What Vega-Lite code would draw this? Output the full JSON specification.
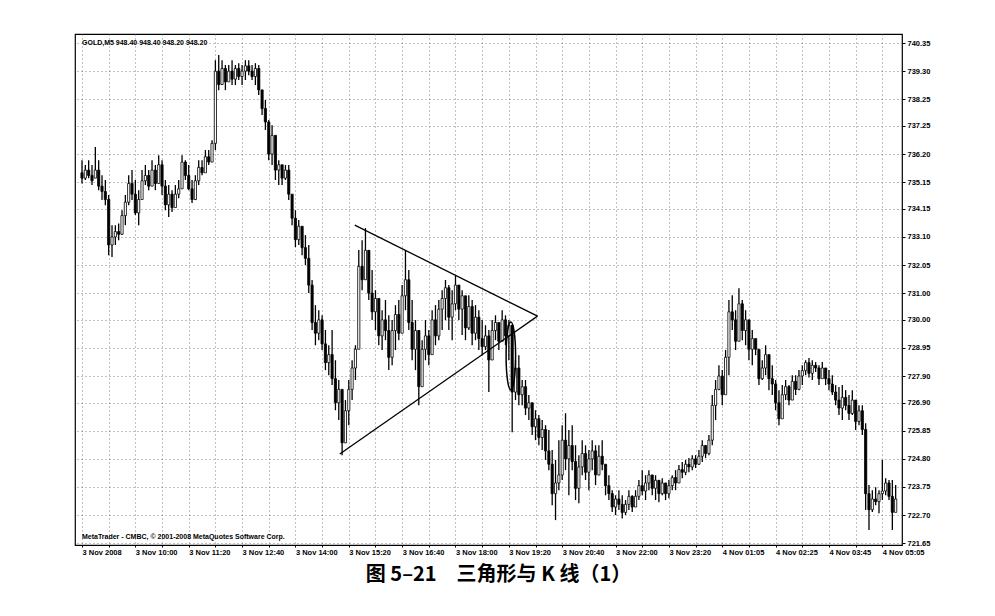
{
"$schema": "https://vega.github.io/schema/vega-lite/v6.json",
"width": 827, "height": 511, "autosize": "none",
"padding": {"left": 75, "top": 34, "right": 93, "bottom": 71},
"background": "white",
"config": {"view": {"stroke": "black", "strokeWidth": 1.2}, "font": "Liberation Sans"},
"title": {"text": "图 5–21　三角形与 K 线（1）", "orient": "bottom", "anchor": "middle", "font": "Noto Sans CJK SC", "fontSize": 20, "fontWeight": "bold", "color": "black", "offset": 9, "dx": 10},
"datasets": {
"bars": [
{"i":0,"o":735.5,"h":735.97,"l":735.1,"c":735.3},
{"i":1,"o":735.3,"h":735.79,"l":735.23,"c":735.6},
{"i":2,"o":735.6,"h":735.97,"l":735.3,"c":735.4},
{"i":3,"o":735.4,"h":735.79,"l":735.04,"c":735.2},
{"i":4,"o":735.3,"h":736.46,"l":735.41,"c":735.6},
{"i":5,"o":735.6,"h":735.97,"l":734.85,"c":735.0},
{"i":6,"o":735.0,"h":735.41,"l":734.48,"c":734.8},
{"i":7,"o":734.8,"h":735.23,"l":734.29,"c":734.5},
{"i":8,"o":734.5,"h":734.67,"l":732.42,"c":732.8},
{"i":9,"o":732.8,"h":733.54,"l":732.35,"c":733.1},
{"i":10,"o":733.1,"h":733.54,"l":732.8,"c":733.3},
{"i":11,"o":733.3,"h":733.6,"l":732.98,"c":733.2},
{"i":12,"o":733.2,"h":734.1,"l":733.17,"c":733.9},
{"i":13,"o":733.9,"h":734.67,"l":733.54,"c":734.4},
{"i":14,"o":734.4,"h":735.41,"l":734.29,"c":735.1},
{"i":15,"o":735.1,"h":735.6,"l":734.48,"c":734.7},
{"i":16,"o":734.7,"h":735.23,"l":733.92,"c":734.0},
{"i":17,"o":734.0,"h":734.85,"l":733.54,"c":734.5},
{"i":18,"o":734.5,"h":735.6,"l":734.67,"c":735.2},
{"i":19,"o":735.2,"h":735.79,"l":735.04,"c":735.4},
{"i":20,"o":735.4,"h":735.6,"l":734.85,"c":735.0},
{"i":21,"o":735.0,"h":735.97,"l":735.04,"c":735.6},
{"i":22,"o":735.6,"h":735.79,"l":734.85,"c":735.1},
{"i":23,"o":735.1,"h":736.16,"l":735.23,"c":735.8},
{"i":24,"o":735.8,"h":735.97,"l":734.67,"c":735.0},
{"i":25,"o":735.0,"h":735.23,"l":734.1,"c":734.3},
{"i":26,"o":734.3,"h":735.04,"l":733.85,"c":734.7},
{"i":27,"o":734.7,"h":734.85,"l":734.03,"c":734.2},
{"i":28,"o":734.2,"h":735.04,"l":734.48,"c":734.7},
{"i":29,"o":734.7,"h":735.23,"l":734.55,"c":734.9},
{"i":30,"o":734.9,"h":736.16,"l":735.04,"c":735.9},
{"i":31,"o":735.9,"h":735.97,"l":735.23,"c":735.4},
{"i":32,"o":735.4,"h":735.79,"l":734.85,"c":734.9},
{"i":33,"o":734.9,"h":735.23,"l":734.37,"c":734.5},
{"i":34,"o":734.5,"h":735.41,"l":734.48,"c":735.2},
{"i":35,"o":735.2,"h":735.97,"l":735.04,"c":735.7},
{"i":36,"o":735.7,"h":735.97,"l":735.41,"c":735.5},
{"i":37,"o":735.5,"h":736.35,"l":735.6,"c":736.1},
{"i":38,"o":736.1,"h":736.35,"l":735.79,"c":735.9},
{"i":39,"o":735.9,"h":736.72,"l":735.97,"c":736.6},
{"i":40,"o":736.6,"h":739.71,"l":736.35,"c":739.3},
{"i":41,"o":739.3,"h":739.9,"l":738.59,"c":738.8},
{"i":42,"o":738.8,"h":739.71,"l":738.78,"c":739.4},
{"i":43,"o":739.4,"h":739.53,"l":738.59,"c":738.9},
{"i":44,"o":738.9,"h":739.53,"l":738.97,"c":739.3},
{"i":45,"o":739.3,"h":739.71,"l":738.78,"c":739.0},
{"i":46,"o":739.0,"h":739.53,"l":738.78,"c":739.4},
{"i":47,"o":739.4,"h":739.6,"l":738.97,"c":739.1},
{"i":48,"o":739.1,"h":739.53,"l":738.78,"c":739.3},
{"i":49,"o":739.3,"h":739.71,"l":738.97,"c":739.5},
{"i":50,"o":739.5,"h":739.71,"l":739.15,"c":739.3},
{"i":51,"o":739.3,"h":739.53,"l":738.97,"c":739.1},
{"i":52,"o":739.1,"h":739.6,"l":738.78,"c":739.4},
{"i":53,"o":739.4,"h":739.53,"l":738.41,"c":738.6},
{"i":54,"o":738.6,"h":738.59,"l":737.66,"c":737.9},
{"i":55,"o":737.9,"h":738.22,"l":737.1,"c":737.4},
{"i":56,"o":737.4,"h":737.47,"l":735.97,"c":736.2},
{"i":57,"o":736.2,"h":737.28,"l":735.79,"c":736.9},
{"i":58,"o":736.9,"h":736.72,"l":735.23,"c":735.6},
{"i":59,"o":735.6,"h":735.97,"l":735.04,"c":735.8},
{"i":60,"o":735.8,"h":735.79,"l":735.04,"c":735.3},
{"i":61,"o":735.3,"h":735.79,"l":735.23,"c":735.6},
{"i":62,"o":735.6,"h":735.79,"l":734.48,"c":734.7},
{"i":63,"o":734.7,"h":734.67,"l":733.54,"c":733.8},
{"i":64,"o":733.8,"h":734.1,"l":732.72,"c":733.0},
{"i":65,"o":733.0,"h":733.73,"l":732.8,"c":733.5},
{"i":66,"o":733.5,"h":733.36,"l":732.42,"c":732.7},
{"i":67,"o":732.7,"h":733.17,"l":732.05,"c":732.3},
{"i":68,"o":732.3,"h":732.8,"l":731.0,"c":731.3},
{"i":69,"o":731.3,"h":731.49,"l":729.62,"c":729.9},
{"i":70,"o":729.9,"h":730.55,"l":729.05,"c":729.5},
{"i":71,"o":729.5,"h":730.36,"l":729.24,"c":730.0},
{"i":72,"o":730.0,"h":730.17,"l":728.87,"c":729.1},
{"i":73,"o":729.1,"h":729.62,"l":728.12,"c":728.4},
{"i":74,"o":728.4,"h":729.05,"l":727.93,"c":728.7},
{"i":75,"o":728.7,"h":729.62,"l":727.56,"c":727.8},
{"i":76,"o":727.8,"h":728.49,"l":726.62,"c":726.9},
{"i":77,"o":726.9,"h":727.75,"l":726.25,"c":727.4},
{"i":78,"o":727.4,"h":727.37,"l":724.94,"c":725.4},
{"i":79,"o":725.4,"h":727.0,"l":725.5,"c":726.6},
{"i":80,"o":726.6,"h":727.75,"l":726.06,"c":727.4},
{"i":81,"o":727.4,"h":728.49,"l":727.0,"c":728.2},
{"i":82,"o":728.2,"h":729.05,"l":727.75,"c":728.9},
{"i":83,"o":728.9,"h":732.61,"l":729.05,"c":732.0},
{"i":84,"o":732.0,"h":732.98,"l":731.11,"c":731.5},
{"i":85,"o":731.5,"h":733.43,"l":731.49,"c":732.6},
{"i":86,"o":732.6,"h":732.61,"l":730.74,"c":731.0},
{"i":87,"o":731.0,"h":731.86,"l":729.99,"c":730.3},
{"i":88,"o":730.3,"h":731.11,"l":729.62,"c":730.8},
{"i":89,"o":730.8,"h":730.74,"l":729.05,"c":729.4},
{"i":90,"o":729.4,"h":730.36,"l":728.87,"c":730.0},
{"i":91,"o":730.0,"h":730.74,"l":729.24,"c":729.6},
{"i":92,"o":729.6,"h":730.17,"l":728.12,"c":728.6},
{"i":93,"o":728.6,"h":729.99,"l":728.3,"c":729.6},
{"i":94,"o":729.6,"h":730.55,"l":728.87,"c":730.2},
{"i":95,"o":730.2,"h":730.74,"l":729.24,"c":729.5},
{"i":96,"o":729.5,"h":731.3,"l":729.62,"c":730.9},
{"i":97,"o":730.9,"h":732.61,"l":730.36,"c":731.5},
{"i":98,"o":731.5,"h":731.86,"l":729.62,"c":729.9},
{"i":99,"o":729.9,"h":730.74,"l":728.49,"c":728.9},
{"i":100,"o":728.9,"h":729.99,"l":728.12,"c":729.6},
{"i":101,"o":729.6,"h":729.62,"l":726.81,"c":727.5},
{"i":102,"o":727.5,"h":729.24,"l":727.75,"c":728.9},
{"i":103,"o":728.9,"h":729.99,"l":728.49,"c":729.4},
{"i":104,"o":729.4,"h":729.62,"l":728.3,"c":728.7},
{"i":105,"o":728.7,"h":730.36,"l":728.87,"c":730.0},
{"i":106,"o":730.0,"h":730.55,"l":729.05,"c":729.4},
{"i":107,"o":729.4,"h":730.74,"l":729.24,"c":730.4},
{"i":108,"o":730.4,"h":731.11,"l":729.62,"c":730.8},
{"i":109,"o":730.8,"h":731.49,"l":729.99,"c":731.2},
{"i":110,"o":731.2,"h":731.3,"l":729.62,"c":730.1},
{"i":111,"o":730.1,"h":731.11,"l":729.24,"c":730.6},
{"i":112,"o":730.6,"h":731.67,"l":730.36,"c":731.3},
{"i":113,"o":731.3,"h":731.3,"l":729.99,"c":730.4},
{"i":114,"o":730.4,"h":731.11,"l":729.43,"c":730.9},
{"i":115,"o":730.9,"h":730.74,"l":729.24,"c":729.7},
{"i":116,"o":729.7,"h":730.92,"l":729.62,"c":730.5},
{"i":117,"o":730.5,"h":730.74,"l":729.05,"c":729.5},
{"i":118,"o":729.5,"h":730.55,"l":729.24,"c":730.1},
{"i":119,"o":730.1,"h":730.36,"l":728.87,"c":729.3},
{"i":120,"o":729.3,"h":729.99,"l":728.68,"c":729.0},
{"i":121,"o":729.0,"h":729.8,"l":728.87,"c":729.4},
{"i":122,"o":729.4,"h":729.62,"l":727.3,"c":728.5},
{"i":123,"o":728.5,"h":729.99,"l":729.05,"c":729.6},
{"i":124,"o":729.6,"h":730.17,"l":729.24,"c":729.9},
{"i":125,"o":729.9,"h":729.8,"l":728.87,"c":729.2},
{"i":126,"o":729.2,"h":730.36,"l":729.24,"c":730.0},
{"i":127,"o":730.0,"h":730.17,"l":729.05,"c":729.4},
{"i":128,"o":729.4,"h":729.99,"l":728.49,"c":729.8},
{"i":129,"o":729.8,"h":729.8,"l":725.8,"c":727.3},
{"i":130,"o":727.3,"h":728.49,"l":727.0,"c":728.2},
{"i":131,"o":728.2,"h":728.68,"l":726.81,"c":727.2},
{"i":132,"o":727.2,"h":727.75,"l":726.81,"c":727.5},
{"i":133,"o":727.5,"h":727.75,"l":726.44,"c":726.7},
{"i":134,"o":726.7,"h":727.19,"l":726.25,"c":726.9},
{"i":135,"o":726.9,"h":726.81,"l":725.69,"c":726.0},
{"i":136,"o":726.0,"h":726.62,"l":725.5,"c":726.3},
{"i":137,"o":726.3,"h":726.44,"l":725.31,"c":725.6},
{"i":138,"o":725.6,"h":726.25,"l":725.13,"c":725.9},
{"i":139,"o":725.9,"h":726.06,"l":724.76,"c":725.1},
{"i":140,"o":725.1,"h":725.88,"l":724.38,"c":724.6},
{"i":141,"o":724.6,"h":725.13,"l":723.07,"c":723.5},
{"i":142,"o":723.5,"h":724.76,"l":722.51,"c":723.9},
{"i":143,"o":723.9,"h":725.5,"l":723.63,"c":724.2},
{"i":144,"o":724.2,"h":726.06,"l":724.01,"c":725.5},
{"i":145,"o":725.5,"h":726.51,"l":724.38,"c":724.8},
{"i":146,"o":724.8,"h":725.88,"l":723.44,"c":725.3},
{"i":147,"o":725.3,"h":726.06,"l":724.38,"c":724.7},
{"i":148,"o":724.7,"h":725.31,"l":723.26,"c":723.7},
{"i":149,"o":723.7,"h":724.94,"l":723.14,"c":724.5},
{"i":150,"o":724.5,"h":725.5,"l":724.19,"c":725.0},
{"i":151,"o":725.0,"h":725.31,"l":724.01,"c":724.3},
{"i":152,"o":724.3,"h":725.13,"l":723.63,"c":724.8},
{"i":153,"o":724.8,"h":725.5,"l":724.38,"c":725.1},
{"i":154,"o":725.1,"h":725.31,"l":723.82,"c":724.2},
{"i":155,"o":724.2,"h":725.31,"l":724.19,"c":724.9},
{"i":156,"o":724.9,"h":725.5,"l":724.38,"c":724.6},
{"i":157,"o":724.6,"h":724.38,"l":723.44,"c":723.8},
{"i":158,"o":723.8,"h":724.19,"l":723.26,"c":723.5},
{"i":159,"o":723.5,"h":723.63,"l":722.81,"c":723.0},
{"i":160,"o":723.0,"h":723.44,"l":722.7,"c":723.3},
{"i":161,"o":723.3,"h":723.63,"l":722.89,"c":723.1},
{"i":162,"o":723.1,"h":723.44,"l":722.57,"c":722.8},
{"i":163,"o":722.8,"h":723.26,"l":722.7,"c":723.1},
{"i":164,"o":723.1,"h":723.63,"l":722.89,"c":723.4},
{"i":165,"o":723.4,"h":723.44,"l":722.81,"c":723.0},
{"i":166,"o":723.0,"h":723.63,"l":723.07,"c":723.4},
{"i":167,"o":723.4,"h":724.01,"l":723.26,"c":723.8},
{"i":168,"o":723.8,"h":724.38,"l":723.44,"c":723.6},
{"i":169,"o":723.6,"h":724.19,"l":723.26,"c":723.9},
{"i":170,"o":723.9,"h":724.38,"l":723.63,"c":724.2},
{"i":171,"o":724.2,"h":724.19,"l":723.44,"c":723.7},
{"i":172,"o":723.7,"h":724.19,"l":723.26,"c":724.0},
{"i":173,"o":724.0,"h":724.01,"l":723.18,"c":723.5},
{"i":174,"o":723.5,"h":724.08,"l":723.44,"c":723.9},
{"i":175,"o":723.9,"h":723.82,"l":723.26,"c":723.5},
{"i":176,"o":723.5,"h":724.01,"l":723.33,"c":723.8},
{"i":177,"o":723.8,"h":724.19,"l":723.63,"c":724.1},
{"i":178,"o":724.1,"h":724.38,"l":723.63,"c":723.9},
{"i":179,"o":723.9,"h":724.57,"l":724.01,"c":724.4},
{"i":180,"o":724.4,"h":724.68,"l":724.08,"c":724.3},
{"i":181,"o":724.3,"h":724.76,"l":724.19,"c":724.6},
{"i":182,"o":724.6,"h":724.83,"l":724.3,"c":724.5},
{"i":183,"o":724.5,"h":724.94,"l":724.38,"c":724.8},
{"i":184,"o":724.8,"h":724.94,"l":724.46,"c":724.6},
{"i":185,"o":724.6,"h":725.13,"l":724.57,"c":724.9},
{"i":186,"o":724.9,"h":725.5,"l":724.68,"c":725.3},
{"i":187,"o":725.3,"h":725.31,"l":724.83,"c":725.0},
{"i":188,"o":725.0,"h":725.69,"l":724.94,"c":725.5},
{"i":189,"o":725.5,"h":727.19,"l":725.31,"c":726.8},
{"i":190,"o":726.8,"h":727.75,"l":726.25,"c":727.4},
{"i":191,"o":727.4,"h":728.3,"l":727.37,"c":727.9},
{"i":192,"o":727.9,"h":728.12,"l":726.81,"c":727.2},
{"i":193,"o":727.2,"h":728.87,"l":727.75,"c":728.6},
{"i":194,"o":728.6,"h":730.74,"l":727.93,"c":730.3},
{"i":195,"o":730.3,"h":730.92,"l":729.62,"c":730.0},
{"i":196,"o":730.0,"h":730.36,"l":728.87,"c":729.2},
{"i":197,"o":729.2,"h":731.18,"l":729.62,"c":730.6},
{"i":198,"o":730.6,"h":730.74,"l":729.24,"c":729.6},
{"i":199,"o":729.6,"h":730.36,"l":729.05,"c":730.0},
{"i":200,"o":730.0,"h":729.99,"l":728.49,"c":728.9},
{"i":201,"o":728.9,"h":729.62,"l":728.3,"c":729.3},
{"i":202,"o":729.3,"h":729.24,"l":728.68,"c":728.9},
{"i":203,"o":728.9,"h":728.49,"l":727.56,"c":727.8},
{"i":204,"o":727.8,"h":728.49,"l":727.75,"c":728.2},
{"i":205,"o":728.2,"h":729.05,"l":727.93,"c":728.7},
{"i":206,"o":728.7,"h":728.49,"l":727.37,"c":727.8},
{"i":207,"o":727.8,"h":728.3,"l":727.19,"c":727.6},
{"i":208,"o":727.6,"h":727.75,"l":726.62,"c":726.9},
{"i":209,"o":726.9,"h":727.37,"l":726.06,"c":726.3},
{"i":210,"o":726.3,"h":727.56,"l":726.44,"c":727.2},
{"i":211,"o":727.2,"h":727.75,"l":727.0,"c":727.5},
{"i":212,"o":727.5,"h":727.56,"l":726.81,"c":727.0},
{"i":213,"o":727.0,"h":727.93,"l":727.0,"c":727.7},
{"i":214,"o":727.7,"h":727.93,"l":727.19,"c":727.4},
{"i":215,"o":727.4,"h":728.12,"l":727.37,"c":727.9},
{"i":216,"o":727.9,"h":728.3,"l":727.56,"c":728.1},
{"i":217,"o":728.1,"h":728.49,"l":727.93,"c":728.4},
{"i":218,"o":728.4,"h":728.57,"l":727.84,"c":728.0},
{"i":219,"o":728.0,"h":728.49,"l":727.75,"c":728.3},
{"i":220,"o":728.3,"h":728.42,"l":728.05,"c":728.2},
{"i":221,"o":728.2,"h":728.3,"l":727.56,"c":727.8},
{"i":222,"o":727.8,"h":728.42,"l":727.84,"c":728.2},
{"i":223,"o":728.2,"h":728.19,"l":727.56,"c":727.8},
{"i":224,"o":727.8,"h":728.12,"l":727.37,"c":727.6},
{"i":225,"o":727.6,"h":727.93,"l":727.19,"c":727.3},
{"i":226,"o":727.3,"h":727.56,"l":726.81,"c":727.0},
{"i":227,"o":727.0,"h":727.49,"l":726.44,"c":726.7},
{"i":228,"o":726.7,"h":727.56,"l":726.25,"c":727.1},
{"i":229,"o":727.1,"h":727.37,"l":726.62,"c":726.8},
{"i":230,"o":726.8,"h":727.19,"l":726.25,"c":726.5},
{"i":231,"o":726.5,"h":727.37,"l":726.44,"c":727.0},
{"i":232,"o":727.0,"h":727.0,"l":725.88,"c":726.2},
{"i":233,"o":726.2,"h":726.81,"l":726.06,"c":726.6},
{"i":234,"o":726.6,"h":726.81,"l":725.69,"c":725.9},
{"i":235,"o":725.9,"h":726.13,"l":722.89,"c":723.5},
{"i":236,"o":723.5,"h":723.82,"l":722.14,"c":722.9},
{"i":237,"o":722.9,"h":723.63,"l":722.81,"c":723.3},
{"i":238,"o":723.3,"h":723.74,"l":723.07,"c":723.2},
{"i":239,"o":723.2,"h":723.63,"l":722.77,"c":723.5},
{"i":240,"o":723.5,"h":724.76,"l":723.26,"c":723.6},
{"i":241,"o":723.6,"h":724.08,"l":723.44,"c":723.9},
{"i":242,"o":723.9,"h":724.01,"l":723.26,"c":723.4},
{"i":243,"o":723.4,"h":724.01,"l":722.14,"c":722.8},
{"i":244,"o":722.8,"h":723.82,"l":722.89,"c":723.3}
],
"tri": [
{"side":"upper","i":81.8,"p":733.54},
{"side":"upper","i":136.6,"p":730.14},
{"side":"lower","i":77.3,"p":724.98},
{"side":"lower","i":136.6,"p":730.14}
],
"oval": [{"i":128.6,"p":728.65}]
},
"layer": [
{
"data": {"name": "bars"},
"mark": {"type": "rule", "color": "black", "strokeWidth": 1.3},
"encoding": {
"x": {"field": "i", "type": "quantitative",
"scale": {"domain": [-0.6, 244.4], "nice": false, "zero": false},
"axis": {"title": null, "tickCount": 100, "values": [0,8,16,24,32,40,48,56,64,72,80,88,96,104,112,120,128,136,144,152,160,168,176,184,192,200,208,216,224,232,240],
"labelExpr": "datum.value % 16 == 0 ? ['3 Nov 2008','3 Nov 10:00','3 Nov 11:20','3 Nov 12:40','3 Nov 14:00','3 Nov 15:20','3 Nov 16:40','3 Nov 18:00','3 Nov 19:20','3 Nov 20:40','3 Nov 22:00','3 Nov 23:20','4 Nov 01:05','4 Nov 02:25','4 Nov 03:45','4 Nov 05:05'][datum.value/16] : ''",
"labelAlign": "left", "labelFont": "Liberation Sans", "labelFontSize": 7.5, "labelFontWeight": "bold", "labelColor": "black",
"labelPadding": 1, "labelOverlap": false, "labelFlush": false, "tickSize": 2, "tickColor": "black", "domain": false,
"grid": true, "gridColor": "#666", "gridDash": [1, 3], "gridOpacity": 0.8}},
"y": {"field": "l", "type": "quantitative",
"scale": {"domain": [721.58, 740.69], "nice": false, "zero": false},
"axis": {"title": null, "orient": "right", "tickCount": 100, "values": [721.65,722.70,723.75,724.80,725.85,726.90,727.90,728.95,730.00,731.00,732.05,733.10,734.15,735.15,736.20,737.25,738.25,739.30,740.35],
"format": ".2f", "labelFont": "Liberation Sans", "labelFontSize": 7.5, "labelFontWeight": "bold", "labelColor": "black",
"labelPadding": 2, "tickSize": 3, "tickColor": "black", "domain": false, "labelOverlap": false,
"grid": true, "gridColor": "#666", "gridDash": [1, 3], "gridOpacity": 0.8}},
"y2": {"field": "h"}
}
},
{
"data": {"name": "bars"},
"mark": {"type": "bar", "size": 2.2, "stroke": "black", "strokeWidth": 0.8},
"encoding": {
"x": {"field": "i", "type": "quantitative"},
"y": {"field": "o", "type": "quantitative"},
"y2": {"field": "c"},
"fill": {"condition": {"test": "datum.c >= datum.o", "value": "white"}, "value": "black"}
}
},
{
"data": {"name": "tri"},
"mark": {"type": "line", "color": "black", "strokeWidth": 1.3},
"encoding": {
"x": {"field": "i", "type": "quantitative"},
"y": {"field": "p", "type": "quantitative"},
"detail": {"field": "side"}
}
},
{
"data": {"name": "oval"},
"mark": {"type": "point", "shape": "M 0 -1 A 0.14 1 0 1 1 0 1 A 0.14 1 0 1 1 0 -1 Z", "filled": false, "stroke": "black", "strokeWidth": 1.5, "size": 4600, "opacity": 1},
"encoding": {
"x": {"field": "i", "type": "quantitative"},
"y": {"field": "p", "type": "quantitative"}
}
},
{
"data": {"values": [{}]},
"mark": {"type": "text", "align": "left", "baseline": "middle", "font": "Liberation Sans", "fontSize": 7, "fontWeight": "bold", "color": "black"},
"encoding": {
"x": {"datum": 0},
"y": {"datum": 740.36},
"text": {"value": "GOLD,M5  948.40 948.40 948.20 948.20"}
}
},
{
"data": {"values": [{}]},
"mark": {"type": "text", "align": "left", "baseline": "middle", "font": "Liberation Sans", "fontSize": 7, "fontWeight": "bold", "color": "black"},
"encoding": {
"x": {"datum": 0},
"y": {"datum": 721.88},
"text": {"value": "MetaTrader - CMBC, © 2001-2008 MetaQuotes Software Corp."}
}
}
]
}
